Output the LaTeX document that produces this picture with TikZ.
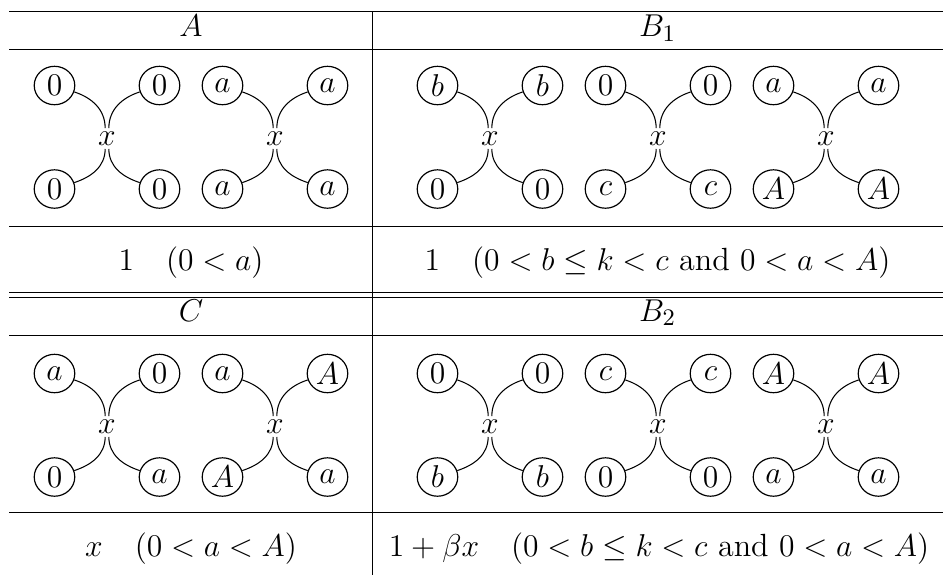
\documentclass[tikz,border=0pt]{standalone}
\usetikzlibrary{shapes.geometric}
\tikzset{
  lab/.style={draw, ellipse, line width=0.45pt, minimum width=15.4pt, minimum height=14.6pt, inner sep=0pt},
  hub/.style={inner sep=1.2pt},
  leg/.style={line width=0.4pt},
  rule/.style={line width=0.35pt},
}
% one vertex x with its four labelled ends
\newcommand{\Xgroup}[7]{%
  \node[hub] (#1x) at (#2,#3) {$x$};
  \node[lab] (#1tl) at (#2-52.5,#3-53) {$#4$};
  \node[lab] (#1tr) at (#2+52.5,#3-53) {$#5$};
  \node[lab] (#1bl) at (#2-52.5,#3+50.5) {$#6$};
  \node[lab] (#1br) at (#2+52.5,#3+50.5) {$#7$};
  \draw[leg] (#1tl) to[out=-18,in=90] (#1x.100);
  \draw[leg] (#1tr) to[out=198,in=90] (#1x.80);
  \draw[leg] (#1bl) to[out=18,in=-90] (#1x.-100);
  \draw[leg] (#1br) to[out=162,in=-90] (#1x.-80);
}

\begin{document}
\begin{tikzpicture}[x=0.38pt,y=-0.38pt,font=\fontsize{12.2}{14}\selectfont]
  \useasboundingbox (0,0) rectangle (943,575);

  % table rules
  \foreach \yy in {11,49,226,292.5,297,335.5,512}{
    \draw[rule] (9.5,\yy) -- (943,\yy);
  }
  \draw[rule] (372,11) -- (372,575);

  % headers
  \node[anchor=base] (hA)  at (191,36.5)   {$A$};
  \node[anchor=base] (hB1) at (657.5,36.5) {$B_1$};
  \node[anchor=base] (hC)  at (191,321)    {$C$};
  \node[anchor=base] (hB2) at (657.5,321)  {$B_2$};

  % A
  \Xgroup{aa}{107}{138.5}{0}{0}{0}{0}
  \Xgroup{ab}{275}{138.5}{a}{a}{a}{a}
  % B_1
  \Xgroup{ba}{490}{138.5}{b}{b}{0}{0}
  \Xgroup{bb}{658}{138.5}{0}{0}{c}{c}
  \Xgroup{bc}{826}{138.5}{a}{a}{A}{A}
  % C
  \Xgroup{ca}{107}{426.5}{a}{0}{0}{a}
  \Xgroup{cb}{275}{426.5}{a}{A}{A}{a}
  % B_2
  \Xgroup{da}{490}{426.5}{0}{0}{b}{b}
  \Xgroup{db}{658}{426.5}{c}{c}{0}{0}
  \Xgroup{dc}{826}{426.5}{A}{A}{a}{a}

  % weights
  \node[anchor=base] (wA)  at (191,270)   {$1\quad(0<a)$};
  \node[anchor=base] (wB1) at (657.5,270) {$1\quad(0<b\le k<c$ and $0<a<A)$};
  \node[anchor=base] (wC)  at (191,556)   {$x\quad(0<a<A)$};
  \node[anchor=base] (wB2) at (659,556)   {$1+\beta x\quad(0<b\le k<c$ and $0<a<A)$};
\end{tikzpicture}
\end{document}
